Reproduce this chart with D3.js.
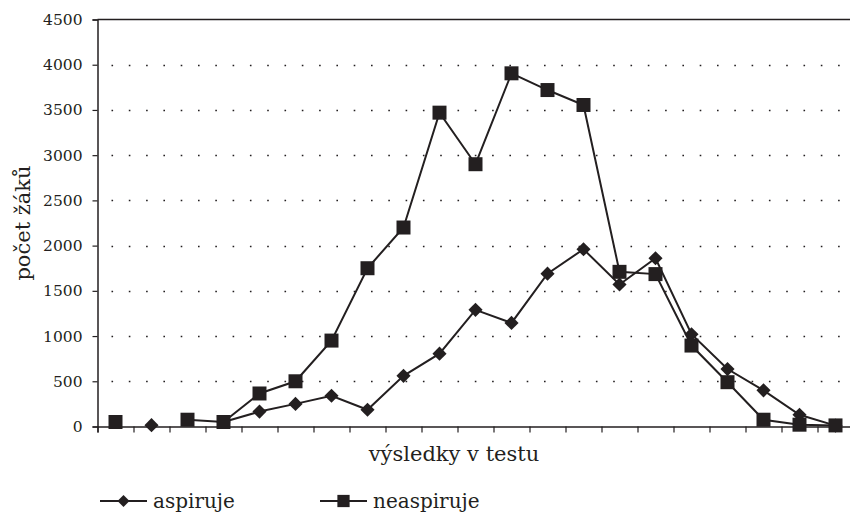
<!DOCTYPE html>
<html>
<head>
<meta charset="utf-8">
<script src="https://cdn.jsdelivr.net/npm/d3@7"></script>
<style>
  body { margin: 0; background: #fff; }
  svg { display: block; font-family: "DejaVu Serif", serif; }
</style>
</head>
<body>
<div id="chart"></div>
<script>
// categories along the x axis (no labels shown, just 21 bins)
const categories = d3.range(21);
// series values (null = no point)
const aspiruje = [null, 15, null, 50, 165, 250, 340, 185, 560, 805, 1290, 1145, 1690, 1960, 1570, 1860, 1020, 635, 400, 130, 10];
const neaspiruje = [50, null, 75, 50, 365, 500, 950, 1750, 2200, 3470, 2900, 3905, 3720, 3555, 1710, 1685, 895, 490, 75, 20, 12];
const yTicks = [0, 500, 1000, 1500, 2000, 2500, 3000, 3500, 4000, 4500];
const seriesNames = ["aspiruje", "neaspiruje"];

const width = 850, height = 512;
const plotLeft = 97.5, plotRight = 853.5, plotTop = 19.5, plotBottom = 426.5;
const ink = "#231f20";

const svg = d3.select("#chart").append("svg")
    .attr("width", width)
    .attr("height", height);

const x = d3.scaleBand().domain(categories).range([plotLeft, plotRight]).padding(0);
const xEdge = d3.scaleLinear().domain([0, categories.length]).range([plotLeft, plotRight]);
const y = d3.scaleLinear().domain([0, 4500]).range([plotBottom, plotTop]);

// dotted gridlines
svg.append("g")
    .selectAll("line")
    .data(yTicks.filter(d => d > 0 && d < 4500))
    .enter().append("line")
    .attr("x1", plotLeft + 14)
    .attr("x2", plotRight)
    .attr("y1", d => Math.round(y(d)) + 0.5)
    .attr("y2", d => Math.round(y(d)) + 0.5)
    .attr("stroke", ink)
    .attr("stroke-width", 1.6)
    .attr("stroke-dasharray", "1.6 15.7");

// top border
svg.append("line")
    .attr("x1", plotLeft).attr("x2", plotRight)
    .attr("y1", plotTop).attr("y2", plotTop)
    .attr("stroke", ink).attr("stroke-width", 1.5);

// y axis
const yAxis = svg.append("g")
    .attr("transform", `translate(${plotLeft},0)`)
    .call(d3.axisLeft(y).tickValues(yTicks).tickFormat(d3.format("d")).tickSize(5).tickPadding(10));
yAxis.select(".domain").attr("stroke", ink).attr("stroke-width", 1.5);
yAxis.selectAll(".tick line").attr("stroke", ink).attr("stroke-width", 1.2);
yAxis.selectAll(".tick text")
    .attr("fill", ink)
    .style("font-family", "DejaVu Serif, serif")
    .style("font-size", "15.5px");

// x axis: ticks at bin edges, no labels
const xAxis = svg.append("g")
    .attr("transform", `translate(0,${plotBottom})`)
    .call(d3.axisBottom(xEdge).tickValues(d3.range(categories.length + 1)).tickSize(6).tickFormat(""));
xAxis.select(".domain").attr("stroke", ink).attr("stroke-width", 1.5);
xAxis.selectAll(".tick line").attr("stroke", ink).attr("stroke-width", 1.2);

// axis titles
svg.append("text")
    .attr("x", 454).attr("y", 461)
    .attr("text-anchor", "middle")
    .attr("fill", ink)
    .style("font-size", "21px")
    .text("výsledky v testu");

svg.append("text")
    .attr("transform", `translate(30,${(plotTop + plotBottom) / 2}) rotate(-90)`)
    .attr("text-anchor", "middle")
    .attr("fill", ink)
    .style("font-size", "21px")
    .text("počet žáků");

const cx = i => x(i) + x.bandwidth() / 2;
const line = d3.line()
    .defined(d => d != null)
    .x((d, i) => cx(i))
    .y(d => y(d));

const diamond = d3.symbol().type(d3.symbolSquare).size(100);
const square = d3.symbol().type(d3.symbolSquare).size(196);

// aspiruje
svg.append("path")
    .datum(aspiruje)
    .attr("d", line)
    .attr("fill", "none")
    .attr("stroke", ink)
    .attr("stroke-width", 2);
svg.append("g")
    .selectAll("path")
    .data(aspiruje.map((v, i) => ({ v, i })).filter(d => d.v != null))
    .enter().append("path")
    .attr("d", diamond)
    .attr("transform", d => `translate(${cx(d.i)},${y(d.v)}) rotate(45)`)
    .attr("fill", ink);

// neaspiruje
svg.append("path")
    .datum(neaspiruje)
    .attr("d", line)
    .attr("fill", "none")
    .attr("stroke", ink)
    .attr("stroke-width", 2);
svg.append("g")
    .selectAll("path")
    .data(neaspiruje.map((v, i) => ({ v, i })).filter(d => d.v != null))
    .enter().append("path")
    .attr("d", square)
    .attr("transform", d => `translate(${cx(d.i)},${y(d.v)})`)
    .attr("fill", ink);

// legend
const legendItems = [
    { name: seriesNames[0], x: 100, symbol: d3.symbol().type(d3.symbolSquare).size(72), rot: 45 },
    { name: seriesNames[1], x: 320, symbol: d3.symbol().type(d3.symbolSquare).size(150), rot: 0 }
];
const legend = svg.append("g").attr("transform", "translate(0,501)");
legendItems.forEach(d => {
    const g = legend.append("g").attr("transform", `translate(${d.x},0)`);
    g.append("line")
        .attr("x1", 0).attr("x2", 47)
        .attr("stroke", ink).attr("stroke-width", 2);
    g.append("path")
        .attr("d", d.symbol)
        .attr("transform", `translate(23.5,0) rotate(${d.rot})`)
        .attr("fill", ink);
    g.append("text")
        .attr("x", 53).attr("y", 7)
        .attr("fill", ink)
        .style("font-size", "20px")
        .text(d.name);
});
</script>
</body>
</html>
